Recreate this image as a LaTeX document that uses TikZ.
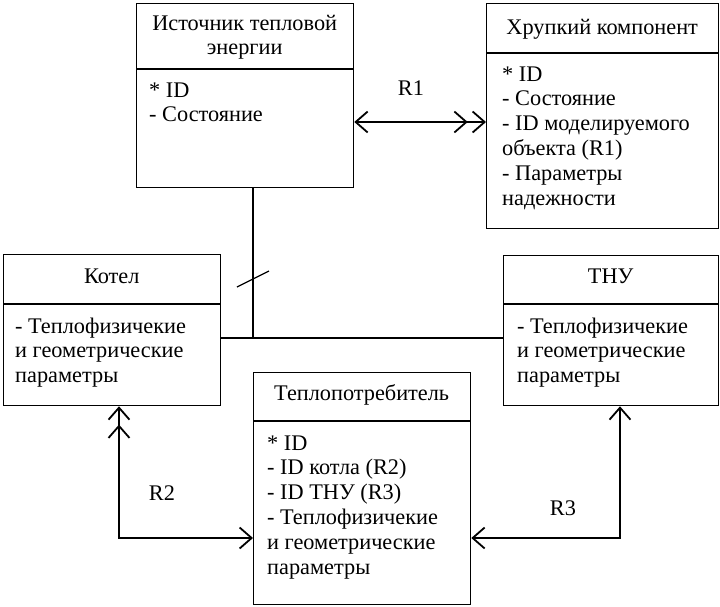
\documentclass[tikz,border=0pt]{standalone}
\usepackage{fontspec}
\setmainfont{Liberation Serif}
\usetikzlibrary{arrows.meta}

\begin{document}
\begin{tikzpicture}[x=1pt,y=-1pt,
  entity/.style={draw=black, line width=1.3pt, fill=none, inner sep=0pt, anchor=north west},
  divider/.style={line width=1.3pt},
  link/.style={line width=1.2pt},
  rel/.style={line width=1.8pt},
  lbl/.style={inner sep=0pt, anchor=base west, font=\fontsize{22.3}{24.8}\selectfont},
  rname/.style={inner sep=0pt, anchor=base, font=\fontsize{22.3}{24.8}\selectfont},
  chev/.tip={Straight Barb[length=12pt,width=21pt]},
  dchev/.tip={Straight Barb[length=12pt,width=21pt,sep=4pt] Straight Barb[length=12pt,width=21pt]}
]
\useasboundingbox (0,0) rectangle (720,606);

% entity boxes
\node[entity, minimum width=217pt, minimum height=184pt] (src) at (136,3) {};
\node[entity, minimum width=232pt, minimum height=225pt] (hk)  at (486,3) {};
\node[entity, minimum width=217pt, minimum height=151pt] (kot) at (3,254) {};
\node[entity, minimum width=215pt, minimum height=150pt] (tnu) at (503,255) {};
\node[entity, minimum width=217pt, minimum height=232pt] (tp)  at (253,372) {};

% header dividers
\draw[divider] (src.west |- 0,69)  -- (src.east |- 0,69);
\draw[divider] (hk.west  |- 0,53)  -- (hk.east  |- 0,53);
\draw[divider] (kot.west |- 0,304) -- (kot.east |- 0,304);
\draw[divider] (tnu.west |- 0,304) -- (tnu.east |- 0,304);
\draw[divider] (tp.west  |- 0,421) -- (tp.east  |- 0,421);

% titles
\node[lbl] (srcT) at (136,30)  {\parbox[t]{217pt}{\centering Источник тепловой\\энергии}};
\node[lbl] (hkT)  at (486,34)  {\parbox[t]{232pt}{\centering Хрупкий компонент}};
\node[lbl] (kotT) at (3,283)   {\parbox[t]{217pt}{\centering Котел}};
\node[lbl] (tnuT) at (503,283) {\parbox[t]{215pt}{\centering ТНУ}};
\node[lbl] (tpT)  at (253,400) {\parbox[t]{217pt}{\centering Теплопотребитель}};

% attribute lists
\node[lbl] (srcA) at (149,97)  {\parbox[t]{200pt}{\raggedright * ID\\- Состояние}};
\node[lbl] (hkA)  at (502,81)  {\parbox[t]{215pt}{\raggedright * ID\\- Состояние\\- ID моделируемого\\объекта (R1)\\- Параметры\\надежности}};
\node[lbl] (kotA) at (15,333)  {\parbox[t]{205pt}{\raggedright - Теплофизичекие\\и геометрические\\параметры}};
\node[lbl] (tnuA) at (517,333) {\parbox[t]{200pt}{\raggedright - Теплофизичекие\\и геометрические\\параметры}};
\node[lbl] (tpA)  at (267,450) {\parbox[t]{200pt}{\raggedright * ID\\- ID котла (R2)\\- ID ТНУ (R3)\\- Теплофизичекие\\и геометрические\\параметры}};

% generalisation: source -> boiler / heat pump
\coordinate (j) at (253,338);
\draw[link] (src.south -| j) -- (j);
\draw[link] (kot.east |- j) -- (tnu.west |- j);
\coordinate (s1) at (237,287);
\coordinate (s2) at (269,271);
\draw[link] (s1) -- (s2);

% relations
\coordinate (r1) at (0,122);
\draw[rel, {chev}-{dchev}] (src.east |- r1) -- (hk.west |- r1);
\node[rname] (r1L) at (411,95) {R1};

\coordinate (r2c) at (119,538);
\draw[rel, {dchev}-{chev}] (kot.south -| r2c) -- (r2c) -- (tp.west |- r2c);
\node[rname] (r2L) at (162,500) {R2};

\coordinate (r3c) at (620,538);
\draw[rel, {chev}-{chev}] (tnu.south -| r3c) -- (r3c) -- (tp.east |- r3c);
\node[rname] (r3L) at (563,515) {R3};
\end{tikzpicture}
\end{document}
